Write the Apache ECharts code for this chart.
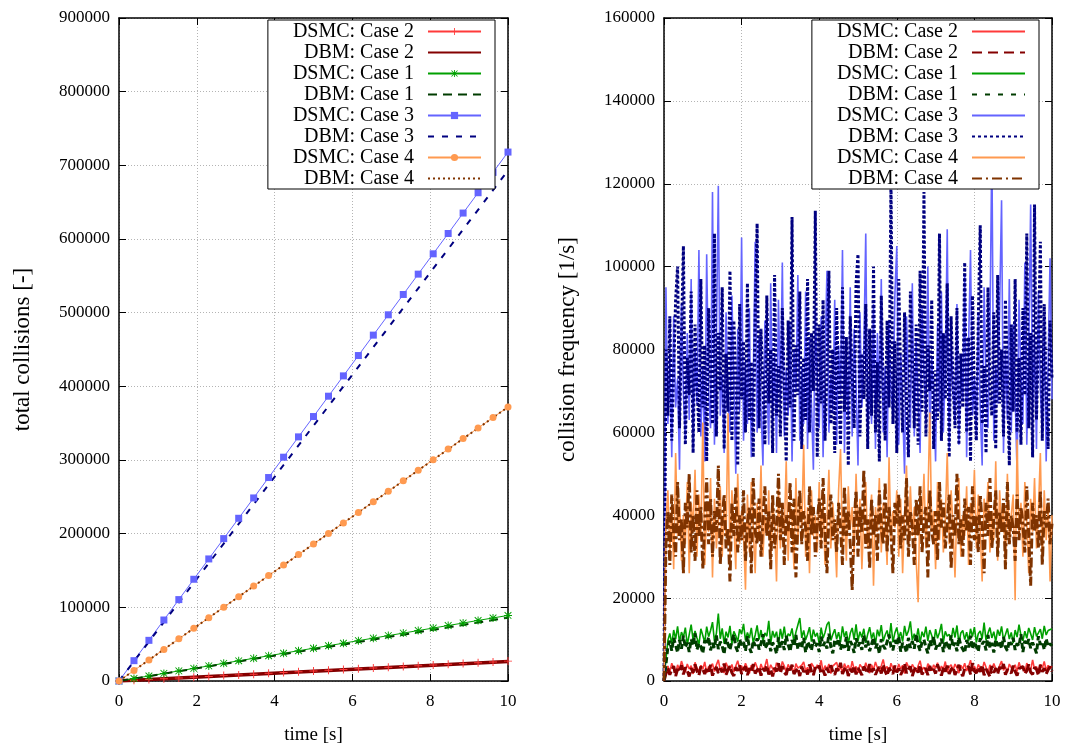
<!DOCTYPE html>
<html>
<head>
<meta charset="utf-8">
<script src="https://cdn.jsdelivr.net/npm/echarts@6/dist/echarts.min.js"></script>
<style>
html,body{margin:0;padding:0;background:#fff;}
#chart{width:1070px;height:747px;}
</style>
</head>
<body>
<div id="chart"></div>
<script>
// ---------- Left panel: total collisions ----------
const totalTime = [0, 0.385, 0.769, 1.154, 1.538, 1.923, 2.308, 2.692, 3.077, 3.462, 3.846, 4.231, 4.615, 5, 5.385, 5.769, 6.154, 6.538, 6.923, 7.308, 7.692, 8.077, 8.462, 8.846, 9.231, 9.615, 10];
const totalDsmc2 = [0, 1000, 2100, 3100, 4200, 5200, 6200, 7300, 8300, 9300, 10400, 11400, 12500, 13500, 14500, 15600, 16600, 17600, 18700, 19700, 20800, 21800, 22800, 23900, 24900, 25900, 27000];
const totalDbm2 = [0, 1000, 2000, 3100, 4100, 5100, 6100, 7100, 8200, 9200, 10200, 11200, 12200, 13300, 14300, 15300, 16300, 17300, 18400, 19400, 20400, 21400, 22400, 23500, 24500, 25500, 26500];
const totalDsmc1 = [0, 3400, 6800, 10300, 13700, 17100, 20500, 24000, 27400, 30800, 34200, 37700, 41100, 44500, 47900, 51300, 54800, 58200, 61600, 65000, 68500, 71900, 75300, 78700, 82200, 85600, 89000];
const totalDbm1 = [0, 3300, 6600, 9900, 13200, 16500, 19800, 23200, 26500, 29800, 33100, 36400, 39700, 43000, 46300, 49600, 52900, 56300, 59600, 62900, 66200, 69500, 72800, 76100, 79400, 82700, 86000];
const totalDsmc3 = [0, 27600, 55200, 82800, 110500, 138100, 165700, 193300, 220900, 248500, 276200, 303800, 331400, 359000, 386600, 414200, 441800, 469500, 497100, 524700, 552300, 579900, 607500, 635200, 662800, 690400, 718000];
const totalDbm3 = [0, 26700, 53300, 80000, 106600, 133300, 159900, 186600, 213200, 239900, 266500, 293200, 319800, 346500, 373100, 399800, 426400, 453100, 479700, 506400, 533000, 559700, 586300, 613000, 639600, 666300, 693000];
const totalDsmc4 = [0, 14300, 28600, 42900, 57200, 71500, 85800, 100200, 114500, 128800, 143100, 157400, 171700, 186000, 200300, 214600, 228900, 243200, 257500, 271800, 286200, 300500, 314800, 329100, 343400, 357700, 372000];
const totalDbm4 = [0, 14300, 28600, 42900, 57200, 71500, 85800, 100100, 114400, 128700, 143000, 157300, 171600, 185900, 200200, 214500, 228800, 243100, 257400, 271700, 286000, 300300, 314600, 328900, 343200, 357500, 371800];

// ---------- Right panel: collision frequency (sampled every 0.05 s) ----------
const freqDsmc2 = [0, 2500, 3600, 2200, 4300, 3000, 1800, 3900, 2700, 4800,
 3300, 2100, 4100, 2900, 3700, 1700, 4500, 3100, 2400, 3800,
 2800, 4600, 2000, 3500, 3000, 4200, 2300, 3900, 5100, 2600,
 3400, 1900, 4400, 3200, 2700, 4000, 2200, 3600, 4900, 2900,
 3700, 2400, 4300, 3100, 1800, 3800, 2600, 4500, 3300, 2100,
 4100, 2800, 3500, 5300, 2300, 3900, 3000, 2000, 4400, 3200,
 2500, 4700, 3600, 2200, 4000, 2900, 3400, 1900, 4200, 3100,
 2700, 3800, 4600, 2400, 3300, 2000, 4300, 3500, 2600, 3900,
 3000, 5000, 2200, 3700, 2800, 4100, 1800, 3600, 3200, 4500,
 2500, 3400, 2100, 4200, 3000, 3800, 2300, 4800, 2900, 3500,
 2000, 4000, 3300, 2600, 4400, 3100, 1900, 3900, 2700, 4600,
 3200, 2400, 3700, 5200, 2800, 3500, 2100, 4300, 3000, 3600,
 2300, 4100, 2900, 3800, 1800, 4500, 3400, 2600, 4000, 3100,
 2200, 3700, 4900, 2700, 3300, 2000, 4200, 3500, 2500, 3900,
 3000, 4400, 2300, 3600, 2800, 4700, 2100, 3400, 3900, 2600,
 4100, 3200, 1900, 3800, 2900, 4300, 2400, 3500, 5000, 2700,
 3600, 2200, 4000, 3100, 2500, 4600, 3300, 1800, 3900, 2800,
 4200, 3000, 2400, 3700, 4800, 2600, 3400, 2100, 4100, 3200,
 2700, 3900, 2300, 4500, 3000, 3600, 2000, 4300, 3300, 2600,
 5100, 2800, 3500, 2200, 4000, 3100, 4700, 2500, 3800, 2900,
 3600];
const freqDbm2 = [0, 1800, 3000, 1500, 2700, 3600, 1200, 2900, 2200, 3800,
 1600, 3300, 2500, 1100, 3100, 2000, 4000, 2400, 1400, 3500,
 2800, 1700, 3200, 2300, 3900, 1300, 2600, 3400, 1900, 3000,
 2100, 4200, 1500, 2700, 3600, 2000, 1200, 3300, 2500, 3800,
 1700, 2900, 3500, 1400, 3100, 2200, 4100, 1800, 2600, 3400,
 1300, 3000, 2400, 3700, 1600, 2800, 1100, 3200, 2300, 4300,
 1900, 3600, 2100, 1500, 3400, 2600, 3900, 1700, 2500, 3100,
 1200, 3500, 2200, 2900, 1600, 4000, 2400, 1400, 3300, 2700,
 3700, 1800, 2600, 1300, 3200, 2000, 3800, 2300, 1500, 3000,
 2500, 4400, 1700, 2800, 3300, 1200, 2900, 2100, 3600, 1600,
 3100, 2400, 1400, 3500, 2700, 1900, 4100, 2200, 3000, 1500,
 2600, 3400, 1800, 3900, 2300, 1300, 3200, 2800, 1700, 3700,
 2100, 3000, 1500, 2500, 4200, 1900, 2900, 3500, 1200, 2700,
 3300, 2000, 3800, 1600, 2400, 3100, 1400, 3600, 2200, 2900,
 1800, 4000, 2600, 1300, 3200, 2300, 3700, 1700, 2800, 3400,
 1500, 2500, 3900, 2100, 1200, 3000, 2700, 3500, 1600, 4300,
 2400, 1900, 3300, 2200, 3800, 1400, 2900, 2600, 1100, 3600,
 2000, 3100, 1700, 3400, 2500, 4100, 1500, 2800, 3200, 1900,
 3700, 2300, 1300, 3000, 2600, 3500, 1800, 2400, 4000, 2100,
 1600, 3300, 2800, 1400, 3900, 2200, 3100, 1700, 2700, 3500,
 2300];
const freqDsmc1 = [0, 5200, 9800, 11500, 8900, 12300, 10100, 13200, 9400, 11800,
 10600, 12900, 8700, 11200, 13600, 9900, 12100, 10400, 8800, 12600,
 11000, 9300, 13100, 10700, 12200, 14200, 9600, 11500, 16300, 10200,
 12700, 9000, 11900, 10500, 13300, 8900, 12000, 10900, 9500, 12500,
 11300, 13800, 9800, 11700, 10300, 12800, 9200, 11100, 13400, 10000,
 12300, 9600, 11600, 10800, 14500, 9100, 12100, 10500, 11900, 8800,
 12600, 10200, 13100, 9700, 11400, 10900, 12700, 9300, 11800, 13500,
 15200, 10400, 12200, 9900, 11300, 13000, 9500, 12400, 10700, 11600,
 9000, 12900, 10300, 11700, 13600, 14300, 9800, 11200, 12500, 10100,
 11800, 9400, 13200, 10600, 12000, 9100, 11500, 12800, 10000, 13700,
 9700, 11900, 10500, 12600, 9200, 11300, 13000, 10200, 11700, 8900,
 12400, 10800, 13500, 9600, 11100, 12200, 10000, 14000, 9300, 11600,
 12900, 10400, 11800, 9500, 13300, 10900, 12100, 14400, 9800, 11400,
 10100, 12700, 9200, 11900, 10600, 13100, 9700, 12300, 11000, 8800,
 12500, 10300, 11700, 13800, 9400, 12000, 10800, 11300, 9900, 12800,
 10500, 13400, 9100, 11600, 12200, 10000, 11800, 9600, 12600, 10700,
 13000, 9300, 11400, 12100, 10200, 14100, 9800, 11500, 12900, 10400,
 11900, 9500, 12400, 10900, 13200, 9900, 11200, 12700, 10100, 11700,
 9200, 12300, 10600, 13600, 11000, 9700, 12000, 10300, 12800, 11400,
 9900, 13000, 10800, 11600, 12500, 10200, 13300, 11100, 12200, 11800,
 12600];
const freqDbm1 = [0, 4000, 8200, 9700, 7300, 10400, 8600, 6900, 9900, 7800,
 10900, 8100, 9300, 7000, 10100, 8500, 11500, 7600, 9100, 8300,
 6700, 9800, 8800, 10600, 7400, 9200, 8000, 11000, 7700, 9500,
 8400, 6500, 10200, 8900, 7500, 9600, 11200, 8200, 7100, 10000,
 8700, 9400, 7300, 10800, 8100, 6800, 9700, 8500, 10300, 7600,
 9000, 11300, 7900, 8600, 10100, 7200, 9300, 8300, 6600, 10500,
 8000, 9600, 7500, 10900, 8800, 7100, 9900, 8400, 11100, 7700,
 9200, 8100, 10400, 6900, 9500, 8600, 7400, 10000, 8300, 9100,
 7000, 10700, 8500, 9400, 7800, 11400, 8200, 6700, 9800, 8900,
 10200, 7600, 9100, 8000, 10600, 7300, 9600, 8700, 6800, 10300,
 8400, 9300, 7500, 11000, 8100, 9700, 7200, 8900, 10500, 7900,
 9000, 6600, 10100, 8500, 7700, 9500, 11200, 8200, 7400, 9900,
 8600, 10800, 7100, 9200, 8300, 6900, 10400, 8000, 9600, 7800,
 11300, 8700, 7300, 9400, 10000, 8100, 6700, 9800, 8500, 10700,
 7600, 9100, 8400, 10200, 7000, 9700, 8800, 7500, 11000, 8200,
 9300, 7200, 10500, 8600, 9000, 6800, 9900, 8100, 10900, 7700,
 9500, 8300, 7100, 10300, 8900, 9600, 7400, 11100, 8000, 9200,
 6900, 10000, 8500, 9400, 7800, 10600, 8200, 7300, 9800, 8700,
 10400, 7500, 9100, 8400, 11300, 7000, 9700, 8600, 10100, 7900,
 9300, 8100, 6700, 10800, 8800, 9500, 7600, 10200, 8300, 9000,
 8500];
const freqDsmc3 = [0, 95000, 62000, 78000, 54000, 88000, 66000, 73000, 51000, 91000,
 69000, 58000, 84000, 63000, 97000, 56000, 80000, 67000, 104000, 59000,
 76000, 53000, 103000, 70000, 61000, 118000, 57000, 82000, 119500, 64000,
 74000, 55000, 89000, 68000, 60000, 93000, 72000, 50000, 85000, 65000,
 107000, 58000, 77000, 62000, 90000, 54000, 71000, 106000, 60000, 83000,
 66000, 52000, 87000, 73000, 57000, 96000, 63000, 79000, 55000, 92000,
 68000, 101000, 59000, 75000, 64000, 86000, 53000, 80000, 70000, 98000,
 58000, 76000, 62000, 94000, 56000, 83000, 67000, 51000, 90000, 72000,
 61000, 88000, 54000, 78000, 99000, 60000, 74000, 65000, 92000, 57000,
 81000, 69000, 104000, 55000, 77000, 63000, 95000, 59000, 85000, 71000,
 52000, 89000, 66000, 80000, 108000, 58000, 73000, 62000, 91000, 56000,
 84000, 68000, 97000, 60000, 76000, 54000, 87000, 70000, 64000, 93000,
 105000, 57000, 79000, 66000, 50000, 88000, 72000, 61000, 96000, 59000,
 82000, 67000, 55000, 90000, 74000, 63000, 100000, 58000, 78000, 69000,
 53000, 86000, 65000, 94000, 60000, 75000, 109000, 56000, 83000, 70000,
 62000, 91000, 57000, 77000, 68000, 98000, 54000, 81000, 104000, 64000,
 73000, 59000, 89000, 66000, 52000, 95000, 71000, 61000, 84000, 129500,
 58000, 76000, 67000, 90000, 116000, 55000, 80000, 63000, 97000, 60000,
 86000, 69000, 50000, 92000, 74000, 62000, 101000, 57000, 79000, 115000,
 65000, 83000, 56000, 94000, 70000, 60000, 88000, 53000, 77000, 102000,
 68000];
const freqDbm3 = [0, 80000, 64000, 88000, 58000, 75000, 92000, 100000, 61000, 83000,
 105000, 57000, 78000, 69000, 94000, 55000, 86000, 72000, 60000, 97000,
 66000, 81000, 53000, 90000, 74000, 62000, 108000, 59000, 84000, 70000,
 95000, 56000, 79000, 65000, 99000, 58000, 87000, 73000, 52000, 91000,
 68000, 82000, 60000, 96000, 63000, 77000, 54000, 89000, 110400, 61000,
 85000, 71000, 57000, 93000, 67000, 80000, 55000, 98000, 64000, 76000,
 59000, 90000, 72000, 53000, 87000, 66000, 112000, 58000, 81000, 69000,
 94000, 56000, 78000, 63000, 97000, 60000, 84000, 70000, 113500, 54000,
 86000, 67000, 92000, 58000, 75000, 99000, 62000, 80000, 55000, 90000,
 71000, 57000, 95000, 65000, 83000, 52000, 88000, 74000, 61000, 96000,
 103000, 59000, 79000, 68000, 91000, 56000, 85000, 64000, 100000, 60000,
 77000, 53000, 93000, 70000, 58000, 87000, 66000, 121000, 62000, 82000,
 55000, 97000, 73000, 60000, 89000, 67000, 54000, 94000, 78000, 61000,
 86000, 57000, 99000, 65000, 118000, 59000, 81000, 70000, 92000, 56000,
 75000, 63000, 108000, 58000, 84000, 68000, 96000, 54000, 88000, 72000,
 61000, 90000, 57000, 79000, 66000, 101000, 60000, 83000, 53000, 93000,
 69000, 58000, 87000, 110000, 62000, 76000, 55000, 95000, 71000, 64000,
 89000, 56000, 98000, 67000, 80000, 59000, 92000, 74000, 52000, 86000,
 65000, 97000, 60000, 78000, 57000, 90000, 69000, 108000, 61000, 84000,
 54000, 115000, 63000, 82000, 106000, 58000, 91000, 70000, 56000, 87000,
 73000];
const freqDsmc4 = [0, 38000, 46000, 31000, 42000, 27000, 55000, 35000, 44000, 29000,
 40000, 33000, 48000, 26000, 43000, 37000, 51000, 30000, 45000, 34000,
 62400, 28000, 41000, 36000, 49000, 25000, 44000, 32000, 39000, 47000,
 30000, 42000, 35000, 64600, 29000, 46000, 38000, 27000, 50000, 33000,
 41000, 36000, 22000, 45000, 31000, 48000, 37000, 26000, 43000, 34000,
 52000, 30000, 40000, 35000, 46000, 28000, 44000, 38000, 24000, 47000,
 32000, 41000, 36000, 53000, 29000, 43000, 39000, 27000, 49000, 33000,
 45000, 37000, 57000, 30000, 42000, 26000, 46000, 35000, 40000, 31000,
 48000, 34000, 44000, 28000, 39000, 51000, 32000, 43000, 36000, 25000,
 46000, 56000, 33000, 41000, 29000, 47000, 37000, 42000, 30000, 50000,
 35000, 44000, 27000, 40000, 48000, 32000, 38000, 45000, 23000, 42000,
 36000, 49000, 31000, 43000, 39000, 28000, 54000, 34000, 41000, 37000,
 46000, 30000, 44000, 26000, 40000, 52000, 33000, 47000, 35000, 42000,
 29000, 19000, 45000, 38000, 50000, 32000, 43000, 64800, 36000, 41000,
 27000, 48000, 34000, 44000, 31000, 39000, 55000, 33000, 46000, 37000,
 25000, 42000, 49000, 30000, 40000, 35000, 47000, 28000, 43000, 38000,
 51000, 32000, 45000, 36000, 24000, 44000, 39000, 48000, 31000, 41000,
 34000, 53000, 29000, 46000, 37000, 42000, 27000, 50000, 33000, 40000,
 45000, 19500, 58300, 35000, 43000, 30000, 48000, 38000, 26000, 44000,
 36000, 49000, 32000, 41000, 55000, 29000, 46000, 34000, 42000, 24000,
 40000];
const freqDbm4 = [0, 33000, 41000, 28000, 45000, 36000, 30000, 48000, 34000, 39000,
 26000, 43000, 37000, 50000, 31000, 40000, 29000, 46000, 35000, 42000,
 27000, 38000, 49000, 33000, 44000, 30000, 41000, 36000, 52000, 28000,
 39000, 45000, 32000, 37000, 24000, 43000, 35000, 47000, 31000, 40000,
 34000, 46000, 29000, 38000, 42000, 26000, 49000, 36000, 33000, 44000,
 30000, 39000, 47000, 35000, 41000, 27000, 45000, 32000, 37000, 50000,
 34000, 43000, 28000, 40000, 36000, 48000, 31000, 44000, 25000, 39000,
 46000, 33000, 41000, 37000, 29000, 47000, 35000, 42000, 30000, 38000,
 44000, 32000, 49000, 36000, 26000, 40000, 45000, 34000, 39000, 31000,
 43000, 37000, 28000, 47000, 35000, 41000, 33000, 22000, 38000, 46000,
 30000, 42000, 36000, 51000, 32000, 39000, 27000, 44000, 35000, 40000,
 29000, 46000, 37000, 33000, 48000, 31000, 42000, 36000, 26000, 43000,
 38000, 45000, 32000, 40000, 34000, 49000, 30000, 41000, 37000, 28000,
 44000, 35000, 47000, 31000, 39000, 42000, 25000, 46000, 36000, 33000,
 41000, 29000, 48000, 37000, 43000, 32000, 38000, 45000, 27000, 40000,
 35000, 50000, 33000, 39000, 30000, 44000, 36000, 42000, 28000, 47000,
 34000, 40000, 31000, 45000, 38000, 26000, 43000, 35000, 49000, 32000,
 39000, 46000, 30000, 41000, 36000, 44000, 27000, 48000, 33000, 40000,
 37000, 29000, 45000, 34000, 42000, 38000, 31000, 47000, 35000, 23000,
 43000, 36000, 40000, 32000, 46000, 28000, 41000, 37000, 44000, 33000,
 38000];
const freqStep = 0.05;

// ---------- Labels ----------
const seriesNames = ['DSMC: Case 2', 'DBM: Case 2', 'DSMC: Case 1', 'DBM: Case 1', 'DSMC: Case 3', 'DBM: Case 3', 'DSMC: Case 4', 'DBM: Case 4'];
const xTitle = 'time [s]';
const yTitleLeft = 'total collisions [-]';
const yTitleRight = 'collision frequency [1/s]';

// ---------- build ----------
const FONT = 'Liberation Serif';
const freqTime = freqDsmc2.map((_, i) => +(i * freqStep).toFixed(3));
const pair = (xs, ys) => ys.map((y, i) => [xs[i], y]);
const RP = 'R|';

const PLUS = 'path://M4.4,0H5.6V4.4H10V5.6H5.6V10H4.4V5.6H0V4.4H4.4Z';
const STAR = 'path://M4.4,0H5.6V4.4H10V5.6H5.6V10H4.4V5.6H0V4.4H4.4Z M1.2,0.4L5,4.2L8.8,0.4L9.6,1.2L5.8,5L9.6,8.8L8.8,9.6L5,5.8L1.2,9.6L0.4,8.8L4.2,5L0.4,1.2Z';

const cRed = '#ff3a3a', cDRed = '#840000', cGreen = '#00a000', cDGreen = '#003c00',
      cBlue = '#6464ff', cNavy = '#000080', cOrange = '#ff9a50', cBrown = '#7f3300';
const seriesColors = [cRed, cDRed, cGreen, cDGreen, cBlue, cNavy, cOrange, cBrown];

function line(name, xs, ys, color, width, type, sym, symSize, xi, yi) {
  return {
    type: 'line', name, xAxisIndex: xi, yAxisIndex: yi,
    data: pair(xs, ys),
    symbol: sym || 'none', symbolSize: symSize || 0, showSymbol: !!sym,
    itemStyle: {color},
    lineStyle: {color, width, type: type || 'solid'},
    emphasis: {disabled: true}, animation: false, silent: true
  };
}

const series = [
  line(seriesNames[0], totalTime, totalDsmc2, cRed, 1, 'solid', PLUS, 8, 0, 0),
  line(seriesNames[1], totalTime, totalDbm2, cDRed, 3.5, 'solid', null, 0, 0, 0),
  line(seriesNames[2], totalTime, totalDsmc1, cGreen, 1, 'solid', STAR, 8, 0, 0),
  line(seriesNames[3], totalTime, totalDbm1, cDGreen, 2, [9, 6], null, 0, 0, 0),
  line(seriesNames[4], totalTime, totalDsmc3, cBlue, 1, 'solid', 'rect', 7, 0, 0),
  line(seriesNames[5], totalTime, totalDbm3, cNavy, 2, [6, 8], null, 0, 0, 0),
  line(seriesNames[6], totalTime, totalDsmc4, cOrange, 1, 'solid', 'circle', 7, 0, 0),
  line(seriesNames[7], totalTime, totalDbm4, cBrown, 2, [2, 3], null, 0, 0, 0),

  line(RP + seriesNames[0], freqTime, freqDsmc2, cRed, 1.6, 'solid', null, 0, 2, 2),
  line(RP + seriesNames[1], freqTime, freqDbm2, cDRed, 3, [10, 3], null, 0, 2, 2),
  line(RP + seriesNames[2], freqTime, freqDsmc1, cGreen, 1.6, 'solid', null, 0, 2, 2),
  line(RP + seriesNames[3], freqTime, freqDbm1, cDGreen, 3, [6, 3], null, 0, 2, 2),
  line(RP + seriesNames[4], freqTime, freqDsmc3, cBlue, 1.6, 'solid', null, 0, 2, 2),
  line(RP + seriesNames[5], freqTime, freqDbm3, cNavy, 3, [3, 2], null, 0, 2, 2),
  line(RP + seriesNames[6], freqTime, freqDsmc4, cOrange, 1.6, 'solid', null, 0, 2, 2),
  line(RP + seriesNames[7], freqTime, freqDbm4, cBrown, 3, [10, 3, 3, 3], null, 0, 2, 2)
];

// legend sample styles for the right panel DBM entries (thinner than the dense traces)
const rightLegendLines = [
  null, {width: 2, type: [10, 6]},
  null, {width: 2, type: [5, 8]},
  null, {width: 2, type: [3, 3]},
  null, {width: 2, type: [10, 4, 2, 4]}
];

const tickStyle = {show: true, inside: true, length: 7, lineStyle: {color: '#000', width: 1}};
const axLine = {show: true, onZero: false, lineStyle: {color: '#000', width: 1.5}};
const split = {show: true, lineStyle: {color: '#b4b4b4', width: 1, type: [1, 2]}};
const lab = (m) => ({show: true, fontFamily: FONT, fontSize: 17, color: '#000', margin: m, formatter: v => String(v)});

function xAxes(gi) {
  return [
    {type: 'value', gridIndex: gi, min: 0, max: 10, interval: 2, position: 'bottom',
     name: xTitle, nameLocation: 'middle', nameGap: 45,
     nameTextStyle: {fontFamily: FONT, fontSize: 19, color: '#000'},
     axisLine: axLine, axisTick: tickStyle, axisLabel: lab(12), splitLine: split},
    {type: 'value', gridIndex: gi, min: 0, max: 10, interval: 2, position: 'top',
     axisLine: axLine, axisTick: tickStyle, axisLabel: {show: false}, splitLine: {show: false}}
  ];
}
function yAxes(gi, max, interval, title) {
  return [
    {type: 'value', gridIndex: gi, min: 0, max, interval, position: 'left',
     name: title, nameLocation: 'middle', nameGap: 85, nameRotate: 90,
     nameTextStyle: {fontFamily: FONT, fontSize: 23, color: '#000'},
     axisLine: axLine, axisTick: tickStyle, axisLabel: lab(9), splitLine: split},
    {type: 'value', gridIndex: gi, min: 0, max, interval, position: 'right',
     axisLine: axLine, axisTick: tickStyle, axisLabel: {show: false}, splitLine: {show: false}}
  ];
}

function legend(prefix, right, markerNames, lineOverrides) {
  return {
    orient: 'vertical', align: 'right', right, top: 20,
    itemWidth: 53, itemHeight: 9, itemGap: 0,
    padding: [1, 13, 0, 25],
    borderColor: '#000', borderWidth: 1, backgroundColor: '#fff',
    selectedMode: false,
    textStyle: {fontFamily: FONT, fontSize: 20, color: '#000', lineHeight: 21, padding: [0, 9, 0, 0]},
    formatter: n => n.replace(RP, ''),
    data: seriesNames.map((n, i) => {
      const item = {name: prefix + n};
      if (markerNames.indexOf(n) < 0) item.itemStyle = {opacity: 0};
      if (lineOverrides && lineOverrides[i]) item.lineStyle = Object.assign({color: seriesColors[i]}, lineOverrides[i]);
      return item;
    })
  };
}

const option = {
  backgroundColor: '#fff',
  animation: false,
  grid: [
    {left: 119, top: 18, width: 389, height: 663, containLabel: false, outerBoundsMode: 'none'},
    {left: 664, top: 18, width: 388, height: 663, containLabel: false, outerBoundsMode: 'none'}
  ],
  xAxis: [...xAxes(0), ...xAxes(1)],
  yAxis: [...yAxes(0, 900000, 100000, yTitleLeft), ...yAxes(1, 160000, 20000, yTitleRight)],
  legend: [
    legend('', 575, [seriesNames[0], seriesNames[2], seriesNames[4], seriesNames[6]], null),
    legend(RP, 31, [], rightLegendLines)
  ],
  series
};

const chart = echarts.init(document.getElementById('chart'), null, {renderer: 'canvas'});
chart.setOption(option);
</script>
</body>
</html>
